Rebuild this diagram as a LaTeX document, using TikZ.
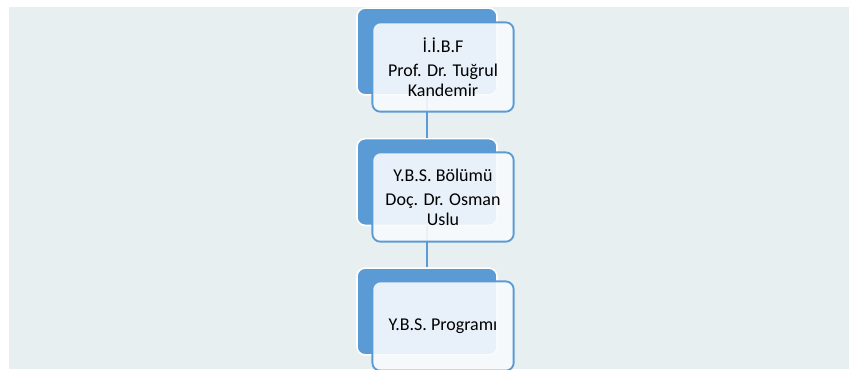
\documentclass[tikz,border=0pt]{standalone}
\usepackage{fontspec}
\setmainfont{Carlito}
\usetikzlibrary{shapes}

\definecolor{boxblue}{HTML}{5B9BD5}
\definecolor{frontfill}{HTML}{F8FBFD}
\definecolor{paneback}{HTML}{E8EFF1}

\begin{document}
\begin{tikzpicture}[x = 0.75pt, y = -0.75pt]
\tikzstyle{backStyle} = [shape = rectangle, rounded corners = 6pt, minimum width = 105pt, minimum height = 65pt, fill = boxblue, draw = white, line width = 1.2pt]
\tikzstyle{frontStyle} = [shape = rectangle, rounded corners = 6pt, minimum width = 106pt, minimum height = 67pt, fill = frontfill, fill opacity = 0.9, text opacity = 1, draw = boxblue, line width = 1.4pt, align = center, font = \fontsize{13.5}{15}\selectfont, text = black]
\tikzstyle{linkStyle} = [draw = boxblue, line width = 1.5pt]
\useasboundingbox (0,0) rectangle (849,369);
\fill[paneback] (9,7) rectangle (849,369);
\node[backStyle] (b1) at (427,51.5) {};
\node[backStyle] (b2) at (427,182) {};
\node[backStyle] (b3) at (427,311.5) {};
\draw[linkStyle] (b1.south) -- (b2.north);
\draw[linkStyle] (b2.south) -- (b3.north);
\node[frontStyle] (f1) at (443,67) {İ.İ.B.F\\[3pt]Prof. Dr. Tuğrul\\Kandemir};
\node[frontStyle] (f2) at (443,197) {Y.B.S. Bölümü\\[3pt]Doç. Dr. Osman\\Uslu};
\node[frontStyle] (f3) at (443,326) {Y.B.S. Programı};
\end{tikzpicture}
\end{document}
